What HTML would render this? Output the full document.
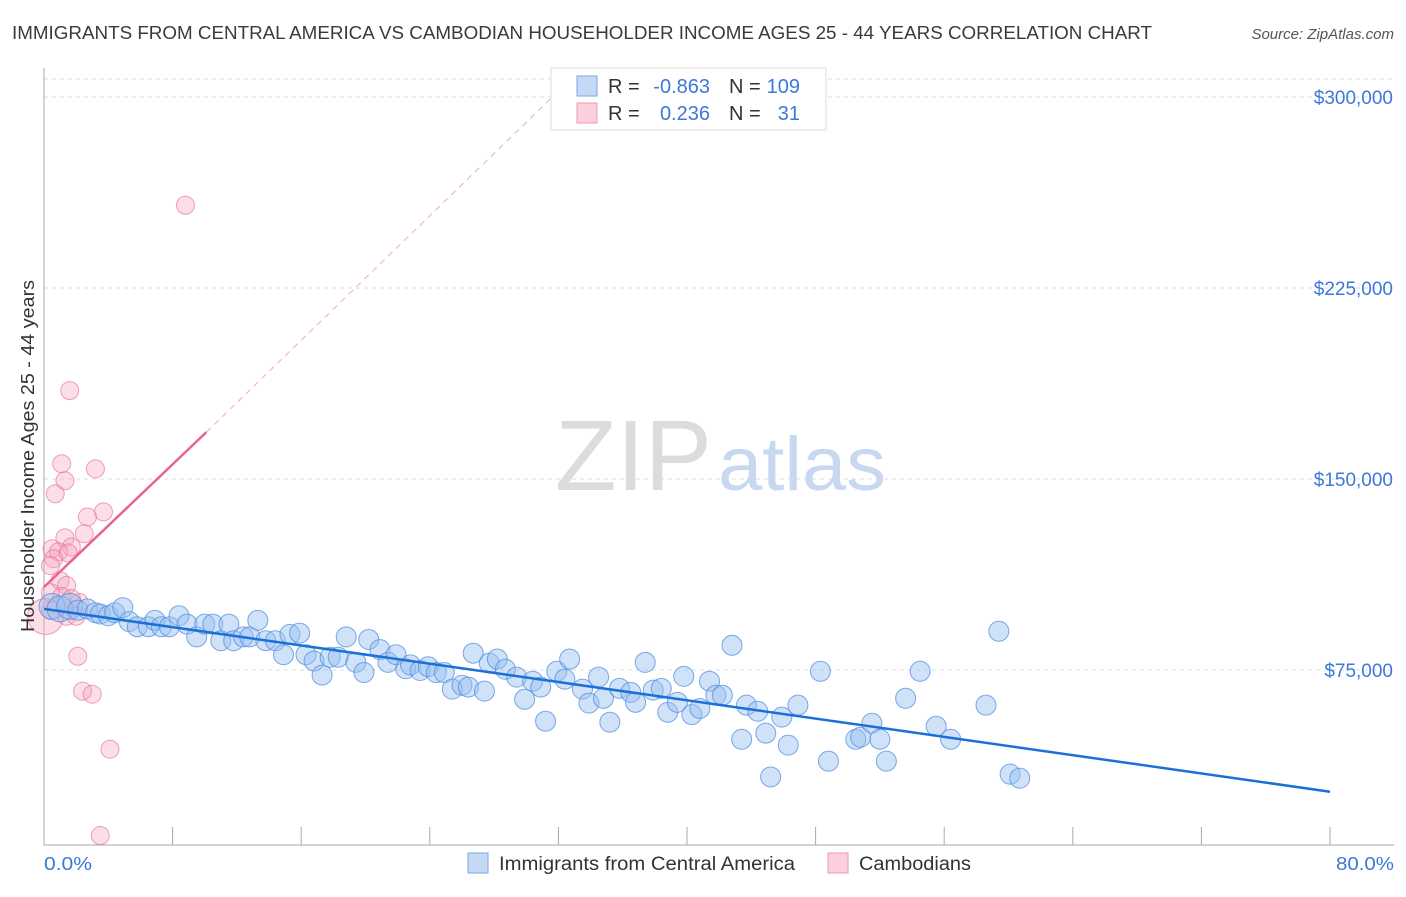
<!DOCTYPE html>
<html><head><meta charset="utf-8"><style>
body{margin:0;background:#fff;font-family:"Liberation Sans",sans-serif;}
svg text{font-family:"Liberation Sans",sans-serif;}
</style></head><body>
<svg id="chart" width="1406" height="892">
<text x="12" y="39" font-size="18" fill="#3a3a3a" textLength="1140" lengthAdjust="spacingAndGlyphs">IMMIGRANTS FROM CENTRAL AMERICA VS CAMBODIAN HOUSEHOLDER INCOME AGES 25 - 44 YEARS CORRELATION CHART</text>
<text x="1394" y="39" font-size="15" fill="#555" text-anchor="end" font-style="italic">Source: ZipAtlas.com</text>
<g id="grid"></g>
<text x="555" y="490" font-size="100" fill="#dcdcdc" textLength="157" lengthAdjust="spacingAndGlyphs" font-family="Liberation Serif">ZIP</text>
<text x="718" y="490" font-size="76" fill="#c7d8f0" textLength="168" lengthAdjust="spacingAndGlyphs">atlas</text>
<g id="marks"></g>
<text transform="translate(34,456) rotate(-90)" font-size="18" fill="#333" text-anchor="middle" textLength="352" lengthAdjust="spacingAndGlyphs">Householder Income Ages 25 - 44 years</text>
<text x="44" y="870" font-size="18" fill="#3c78d8" textLength="48" lengthAdjust="spacingAndGlyphs">0.0%</text>
<text x="1336" y="870" font-size="18" fill="#3c78d8" textLength="58" lengthAdjust="spacingAndGlyphs">80.0%</text>
<g>
<rect x="551" y="68" width="275" height="62" fill="#fff" stroke="#ddd"/>
<rect x="577" y="76" width="20" height="20" fill="#c5d9f5" stroke="#7aa6e6"/>
<rect x="577" y="103" width="20" height="20" fill="#fbd0dc" stroke="#ee9ab3"/>
<text x="608" y="93" font-size="20" fill="#333">R =</text>
<text x="710" y="93" font-size="20" fill="#3c78d8" text-anchor="end">-0.863</text>
<text x="729" y="93" font-size="20" fill="#333">N =</text>
<text x="800" y="93" font-size="20" fill="#3c78d8" text-anchor="end">109</text>
<text x="608" y="120" font-size="20" fill="#333">R =</text>
<text x="710" y="120" font-size="20" fill="#3c78d8" text-anchor="end">0.236</text>
<text x="729" y="120" font-size="20" fill="#333">N =</text>
<text x="800" y="120" font-size="20" fill="#3c78d8" text-anchor="end">31</text>
</g>
<g>
<rect x="468" y="853" width="20" height="20" fill="#c5d9f5" stroke="#7aa6e6"/>
<text x="499" y="870" font-size="19" fill="#333" textLength="296" lengthAdjust="spacingAndGlyphs">Immigrants from Central America</text>
<rect x="828" y="853" width="20" height="20" fill="#fbd0dc" stroke="#ee9ab3"/>
<text x="859" y="870" font-size="19" fill="#333" textLength="112" lengthAdjust="spacingAndGlyphs">Cambodians</text>
</g>
</svg>
<script>
const yTicks=[75000,150000,225000,300000];
const yTickLabels=["$75,000","$150,000","$225,000","$300,000"];
const xTicks=[0,8,16,24,32,40,48,56,64,72,80];
const blueX=[0.5,1.0,1.6,2.1,2.7,3.2,3.5,4.0,4.4,4.9,5.3,5.8,6.5,6.9,7.3,7.8,8.4,8.9,9.5,10.0,10.5,11.0,11.5,11.8,12.4,12.8,13.3,13.8,14.4,14.9,15.3,15.9,16.3,16.8,17.3,17.8,18.3,18.8,19.4,19.9,20.2,20.9,21.4,21.9,22.5,22.8,23.4,23.9,24.4,24.9,25.4,26.0,26.4,26.7,27.4,27.7,28.2,28.7,29.4,29.9,30.4,30.9,31.2,31.9,32.4,32.7,33.5,33.9,34.5,34.8,35.2,35.8,36.5,36.8,37.4,37.9,38.4,38.8,39.4,39.8,40.3,40.8,41.4,41.8,42.2,42.8,43.4,43.7,44.4,44.9,45.2,45.9,46.3,46.9,48.3,48.8,50.5,50.8,51.5,52.0,52.4,53.6,54.5,55.5,56.4,58.6,59.4,60.1,60.7];
const blueY=[100000,99000,100000,98500,99000,97500,97000,96300,97500,99500,94000,92000,92000,94500,92000,92000,96300,93000,88000,93000,93000,86500,93000,86500,88000,88000,94500,86500,86500,81000,89000,89500,81000,78500,73000,80000,80000,88000,78000,74000,87000,83000,78000,81000,75500,77000,74800,76300,74000,74000,67500,69000,68300,81600,66700,77700,79300,75300,72200,63500,70600,68300,54900,74500,71400,79300,67500,62000,72200,63900,54500,67800,66200,62300,78000,67100,67800,58400,62300,72500,57500,59900,70600,65100,65100,84700,47800,61200,58800,50200,33000,56500,45500,61200,74500,39200,47800,48600,54100,47800,39200,63900,74500,52900,47800,61200,90200,34100,32500];
const pinkX=[8.8,1.6,1.1,3.2,1.3,0.7,3.7,2.7,2.5,1.3,1.7,0.5,0.9,1.5,0.6,0.4,1.0,1.4,0.4,1.1,1.7,2.2,0.4,1.4,2.0,2.1,2.4,3.0,4.1,3.5,0.1];
const pinkY=[257500,184700,156000,154000,149300,144200,137100,135100,128500,126900,123300,122600,121400,121000,118700,116000,110100,108200,105400,103900,103100,101500,98400,96100,96100,80400,66700,65500,43900,10000,96000];
const blueTrendX=[0,80];
const blueTrendY=[99000,27200];
const pinkTrendX=[0,10.1,32.2];
const pinkTrendY=[107600,168400,303500];

const L=44,R=1330,B=845;
const sx=v=>L+v/80*(R-L);
const sy=v=>861-v/75000*191;
const NS="http://www.w3.org/2000/svg";
function mk(tag,attrs,parent){const e=document.createElementNS(NS,tag);for(const k in attrs)e.setAttribute(k,attrs[k]);parent.appendChild(e);return e;}
const grid=document.getElementById('grid'),marks=document.getElementById('marks');
yTicks.forEach((t,i)=>{
  const g=mk('line',{x1:L,x2:1394,y1:sy(t),y2:sy(t),stroke:'#ddd','stroke-dasharray':'4,4'},grid);
  
  
  const tx=mk('text',{x:1393,y:sy(t)+7,'font-size':19,fill:'#3c78d8','text-anchor':'end'},grid);
  tx.textContent=yTickLabels[i];
  
  
});
const topG=mk('line',{x1:L,x2:1394,y1:79,y2:79,stroke:'#ddd','stroke-dasharray':'4,4'},grid);


const ax=mk('line',{x1:L,x2:1394,y1:B,y2:B,stroke:'#aaa'},grid);


const ay=mk('line',{x1:L,x2:L,y1:68,y2:B,stroke:'#aaa'},grid);


xTicks.forEach(t=>{
  const k=mk('line',{x1:sx(t),x2:sx(t),y1:B-18,y2:B,stroke:'#aaa'},grid);
  
  
});
pinkX.forEach((x,i)=>{
  const c=mk('circle',{cx:sx(x),cy:sy(pinkY[i]),r:i==pinkX.length-1?18:9,fill:'rgba(245,160,185,0.35)',stroke:'rgba(232,120,155,0.7)','stroke-width':1},marks);
  
  
});
blueX.forEach((x,i)=>{
  const c=mk('circle',{cx:sx(x),cy:sy(blueY[i]),r:i<3?13:10,fill:'rgba(150,190,240,0.45)',stroke:'rgba(80,140,225,0.75)','stroke-width':1},marks);
  
  
});
const bl=mk('line',{x1:sx(blueTrendX[0]),y1:sy(blueTrendY[0]),x2:sx(blueTrendX[1]),y2:sy(blueTrendY[1]),stroke:'#1a6fd8','stroke-width':2.5},marks);


const pl=mk('line',{x1:sx(pinkTrendX[0]),y1:sy(pinkTrendY[0]),x2:sx(pinkTrendX[1]),y2:sy(pinkTrendY[1]),stroke:'#e8648e','stroke-width':2.5},marks);


const pd=mk('line',{x1:sx(pinkTrendX[1]),y1:sy(pinkTrendY[1]),x2:sx(pinkTrendX[2]),y2:sy(pinkTrendY[2]),stroke:'#f0a8bf','stroke-width':1,'stroke-dasharray':'6,5'},marks);


</script>
</body></html>
